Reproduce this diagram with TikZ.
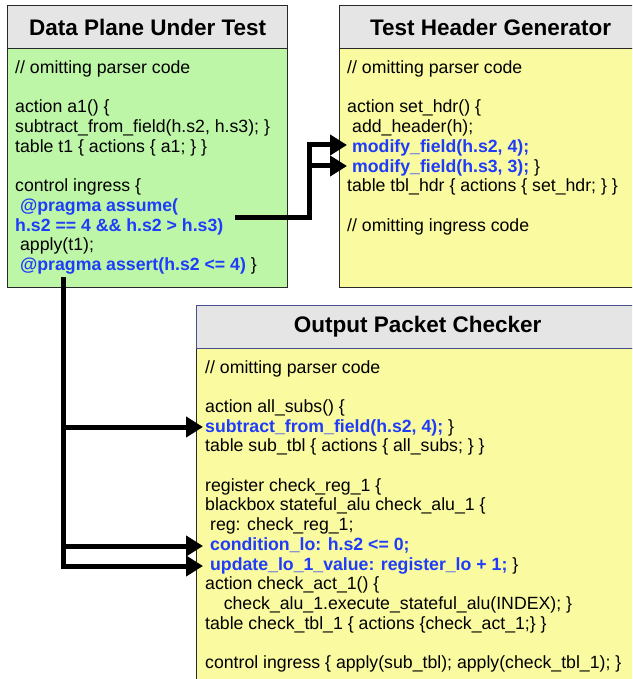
\documentclass[tikz,border=0pt]{standalone}
\usepackage{fontspec}
\setmainfont{Liberation Sans}
\usetikzlibrary{positioning,calc,arrows.meta}

\definecolor{hdrgray}{RGB}{229,229,229}
\definecolor{boxline}{RGB}{40,40,40}
\definecolor{chkline}{RGB}{70,80,140}
\definecolor{dpgreen}{RGB}{190,246,168}
\definecolor{genyellow}{RGB}{250,250,160}
\definecolor{codeblue}{RGB}{30,60,250}
\newcommand{\hl}[1]{\textcolor{codeblue}{\bfseries #1}}
\newcommand{\ind}{\hspace*{0.28em}}

\begin{document}
\begin{tikzpicture}[x=1pt,y=-1pt,
    hdr/.style={draw=boxline, fill=hdrgray, line width=1.2pt, minimum height=43pt,
      anchor=north west, inner sep=0pt, font=\fontsize{22.5}{26}\selectfont\bfseries},
    body/.style={draw=boxline, line width=1.2pt, anchor=north west, inner sep=0pt},
    code/.style={anchor=north west, align=left, inner sep=0pt,
      font=\fontsize{17.7}{19.7}\selectfont},
    conn/.style={line width=5pt, -{Triangle[length=17pt,width=20pt]}}]
        \clip (0,0) rectangle (632,679);

        % Data Plane Under Test
        \node[body, fill=dpgreen, minimum width=280pt, minimum height=239pt] (dpBody) at (7,48) {};
        \node[hdr, minimum width=280pt] (dpHead) at (7,5) {Data Plane Under Test};
        \node[code] (dpCode) at (15,60.5) {// omitting parser code\\
            \\
            action a1() \{\\
            subtract\_from\_field(h.s2, h.s3); \}\\
            table t1 \{ actions \{ a1; \} \}\\
            \\
            control ingress \{\\
            \ind\hl{@pragma assume(}\\
            \hl{h.s2 == 4 \&\& h.s2 > h.s3)}\\
            \ind apply(t1);\\
            \ind\hl{@pragma assert(h.s2 <= 4)} \}};

        % Test Header Generator
        \node[body, fill=genyellow, minimum width=302pt, minimum height=239pt] (genBody) at (339,48) {};
        \node[hdr, minimum width=302pt] (genHead) at (339,5) {Test Header Generator};
        \node[code] (genCode) at (347,60.5) {// omitting parser code\\
            \\
            action set\_hdr() \{\\
            \ind add\_header(h);\\
            \ind\hl{modify\_field(h.s2, 4);}\\
            \ind\hl{modify\_field(h.s3, 3);} \}\\
            table tbl\_hdr \{ actions \{ set\_hdr; \} \}\\
            \\
            // omitting ingress code};

        % Output Packet Checker
        \node[body, fill=genyellow, minimum width=442pt, minimum height=360pt] (chkBody) at (196,348) {};
        \node[hdr, draw=chkline, minimum width=442pt] (chkHead) at (196,305) {Output Packet Checker};
        \node[code] (chkCode) at (205,360) {// omitting parser code\\
            \\
            action all\_subs() \{\\
            \hl{subtract\_from\_field(h.s2, 4);} \}\\
            table sub\_tbl \{ actions \{ all\_subs; \} \}\\
            \\
            register check\_reg\_1 \{\\
            blackbox stateful\_alu check\_alu\_1 \{\\
            \ind reg: check\_reg\_1;\\
            \ind\hl{condition\_lo: h.s2 <= 0;}\\
            \ind\hl{update\_lo\_1\_value: register\_lo + 1;} \}\\
            action check\_act\_1() \{\\
            \hspace*{1.05em}check\_alu\_1.execute\_stateful\_alu(INDEX); \}\\
            table check\_tbl\_1 \{ actions \{check\_act\_1;\} \}\\
            \\
            control ingress \{ apply(sub\_tbl); apply(check\_tbl\_1); \}};

        % Assume -> header generator
        \coordinate (assumeOut) at (235,217);
        \coordinate (hdrBus) at (309,217);
        \coordinate (s2In) at (347,145);
        \coordinate (s3In) at (347,166);
        \draw[conn] (assumeOut) -- (hdrBus) |- (s2In);
        \draw[conn] (hdrBus) |- (s3In);

        % Assert -> output checker
        \coordinate (assertOut) at (63,277);
        \coordinate (subIn) at (203,427);
        \coordinate (condIn) at (203,546);
        \coordinate (updIn) at (203,566);
        \draw[conn] (assertOut) |- (updIn);
        \draw[conn] (assertOut) |- (condIn);
        \draw[conn] (assertOut) |- (subIn);

    \end{tikzpicture}
\end{document}
